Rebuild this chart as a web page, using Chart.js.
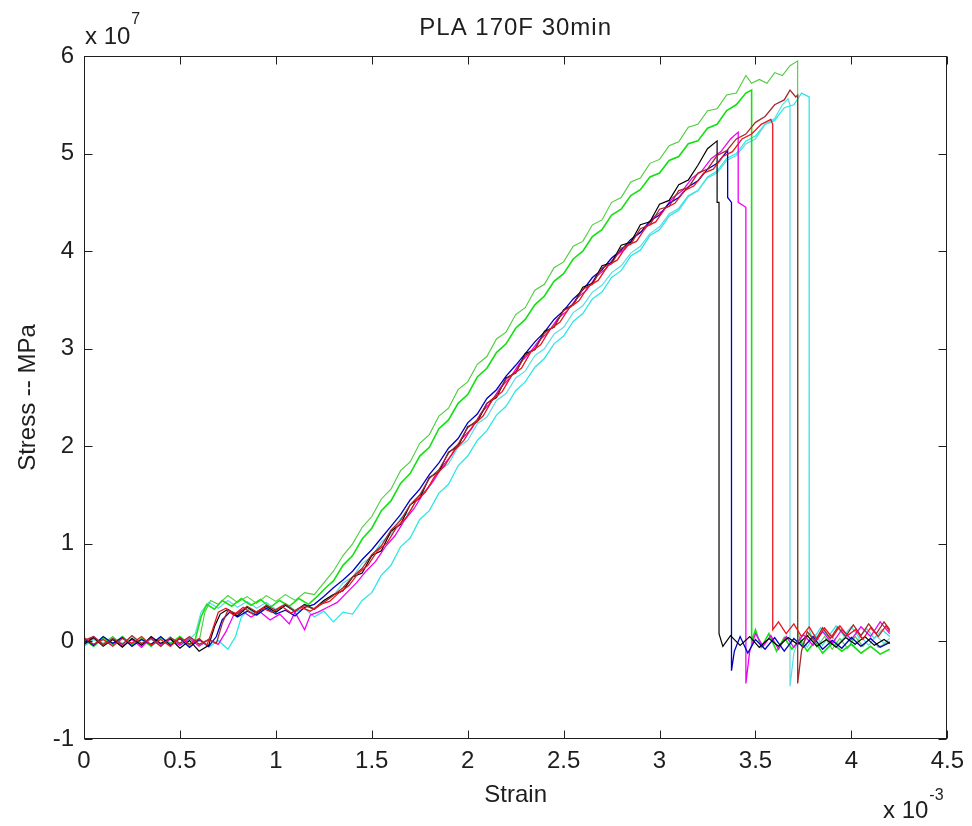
<!DOCTYPE html>
<html>
<head>
<meta charset="utf-8">
<title>PLA 170F 30min</title>
<script src="https://cdn.jsdelivr.net/npm/chart.js@4.4.1/dist/chart.umd.min.js"></script>
<style>
  html, body { margin: 0; padding: 0; background: #fff; }
  #plot { display: block; }
</style>
</head>
<body>
<canvas id="plot" width="972" height="826"></canvas>
<script>
// strain in units of 1e-3, stress in units of 1e7 (axis multipliers drawn separately)
const TITLE = 'PLA 170F 30min';
const X_LABEL = 'Strain';
const Y_LABEL = 'Stress -- MPa';
const X_TICKS = [0, 0.5, 1, 1.5, 2, 2.5, 3, 3.5, 4, 4.5];
const Y_TICKS = [-1, 0, 1, 2, 3, 4, 5, 6];

const redCurve = [[0,0.04],[0.05,-0.03],[0.1,0.02],[0.15,-0.05],[0.2,0.03],[0.25,-0.02],[0.3,0.05],[0.35,-0.04],[0.4,0.02],[0.45,-0.05],[0.5,0.04],[0.55,-0.03],[0.6,0.03],[0.64,-0.04],[0.67,0.12],[0.7,0.3],[0.74,0.34],[0.78,0.27],[0.83,0.35],[0.88,0.28],[0.93,0.34],[0.98,0.3],[1.03,0.36],[1.08,0.29],[1.13,0.35],[1.18,0.31],[1.23,0.38],[1.28,0.41],[1.33,0.5],[1.38,0.57],[1.43,0.7],[1.48,0.78],[1.53,0.93],[1.58,1.01],[1.63,1.17],[1.68,1.27],[1.73,1.44],[1.78,1.53],[1.83,1.7],[1.88,1.8],[1.93,1.96],[1.98,2.06],[2.03,2.22],[2.08,2.31],[2.13,2.48],[2.18,2.56],[2.23,2.73],[2.28,2.8],[2.33,2.97],[2.38,3.04],[2.43,3.2],[2.48,3.27],[2.53,3.42],[2.58,3.49],[2.63,3.64],[2.68,3.7],[2.73,3.85],[2.78,3.91],[2.83,4.06],[2.88,4.1],[2.93,4.25],[2.98,4.3],[3.03,4.44],[3.08,4.49],[3.13,4.62],[3.18,4.67],[3.23,4.8],[3.28,4.84],[3.33,4.97],[3.38,5.02],[3.43,5.15],[3.48,5.2],[3.53,5.3],[3.58,5.35],[3.59,5.3],[3.59,0.12],[3.62,0.2],[3.66,0.08],[3.7,0.18],[3.74,0.05],[3.78,0.15],[3.82,0.02],[3.86,0.14],[3.9,0.04],[3.94,0.16],[3.98,0.06],[4.02,0.12],[4.06,0.02],[4.1,0.14],[4.14,0.05],[4.18,0.16],[4.2,0.1]];

const darkRedCurve = [[0,0.01],[0.05,0.05],[0.1,-0.04],[0.15,0.03],[0.2,-0.03],[0.25,0.06],[0.3,-0.02],[0.35,0.03],[0.4,-0.05],[0.45,0.04],[0.5,-0.02],[0.55,0.05],[0.6,-0.03],[0.65,0.02],[0.69,-0.02],[0.72,0.18],[0.75,0.32],[0.8,0.28],[0.85,0.36],[0.9,0.3],[0.95,0.37],[1,0.32],[1.05,0.38],[1.1,0.31],[1.15,0.37],[1.2,0.33],[1.25,0.4],[1.3,0.47],[1.35,0.55],[1.4,0.66],[1.45,0.75],[1.5,0.89],[1.55,0.98],[1.6,1.14],[1.65,1.24],[1.7,1.4],[1.75,1.5],[1.8,1.67],[1.85,1.76],[1.9,1.93],[1.95,2.02],[2,2.19],[2.05,2.27],[2.1,2.44],[2.15,2.52],[2.2,2.69],[2.25,2.76],[2.3,2.93],[2.35,3],[2.4,3.16],[2.45,3.23],[2.5,3.39],[2.55,3.45],[2.6,3.61],[2.65,3.66],[2.7,3.83],[2.75,3.87],[2.8,4.03],[2.85,4.07],[2.9,4.23],[2.95,4.27],[3,4.43],[3.05,4.46],[3.1,4.62],[3.15,4.65],[3.2,4.8],[3.25,4.84],[3.3,4.98],[3.35,5.03],[3.4,5.15],[3.45,5.2],[3.5,5.32],[3.55,5.38],[3.6,5.5],[3.65,5.55],[3.68,5.65],[3.71,5.58],[3.72,5.6],[3.72,-0.43],[3.74,-0.1],[3.77,0.1],[3.81,0],[3.85,0.14],[3.89,0.03],[3.93,0.15],[3.97,0.05],[4.01,0.17],[4.05,0.06],[4.09,0.18],[4.13,0.08],[4.17,0.2],[4.2,0.12]];

const blackCurve = [[0,-0.03],[0.05,0.04],[0.1,-0.05],[0.15,0.02],[0.2,-0.06],[0.25,0.03],[0.3,-0.04],[0.35,0.05],[0.4,-0.02],[0.45,0.03],[0.5,-0.07],[0.55,0.01],[0.6,-0.1],[0.65,-0.04],[0.68,0.15],[0.71,0.28],[0.75,0.33],[0.8,0.26],[0.85,0.35],[0.9,0.29],[0.95,0.36],[1,0.3],[1.05,0.37],[1.1,0.31],[1.15,0.38],[1.2,0.33],[1.25,0.42],[1.3,0.48],[1.35,0.52],[1.4,0.66],[1.45,0.7],[1.5,0.88],[1.55,0.93],[1.6,1.13],[1.65,1.2],[1.7,1.4],[1.75,1.47],[1.8,1.68],[1.85,1.74],[1.9,1.94],[1.95,2],[2,2.2],[2.05,2.25],[2.1,2.44],[2.15,2.5],[2.2,2.7],[2.25,2.75],[2.3,2.95],[2.35,2.99],[2.4,3.18],[2.45,3.22],[2.5,3.4],[2.55,3.45],[2.6,3.63],[2.65,3.67],[2.7,3.85],[2.75,3.88],[2.8,4.06],[2.85,4.09],[2.9,4.27],[2.95,4.3],[3,4.48],[3.05,4.52],[3.1,4.68],[3.15,4.73],[3.2,4.88],[3.25,5.05],[3.3,5.13],[3.3,4.5],[3.31,4.5],[3.31,0.08],[3.33,-0.05],[3.37,0.06],[3.42,-0.04],[3.47,0.05],[3.52,-0.06],[3.57,0.03],[3.62,-0.05],[3.67,0.04],[3.72,-0.03],[3.77,0.06],[3.82,-0.05],[3.87,0.02],[3.92,-0.06],[3.97,0.04],[4.02,-0.03],[4.07,0.05],[4.12,-0.04],[4.17,0.02],[4.2,-0.02]];

const navyCurve = [[0,0.03],[0.05,-0.04],[0.1,0.05],[0.15,-0.02],[0.2,0.04],[0.25,-0.05],[0.3,0.02],[0.35,-0.03],[0.4,0.05],[0.45,-0.04],[0.5,0.03],[0.55,-0.06],[0.6,0.02],[0.65,-0.05],[0.69,0.05],[0.72,0.22],[0.76,0.3],[0.8,0.25],[0.85,0.31],[0.9,0.27],[0.95,0.34],[1,0.28],[1.05,0.32],[1.1,0.26],[1.15,0.35],[1.2,0.38],[1.25,0.46],[1.3,0.55],[1.35,0.63],[1.4,0.72],[1.45,0.84],[1.5,0.94],[1.55,1.06],[1.6,1.18],[1.65,1.3],[1.7,1.45],[1.75,1.56],[1.8,1.71],[1.85,1.83],[1.9,1.98],[1.95,2.08],[2,2.24],[2.05,2.33],[2.1,2.49],[2.15,2.58],[2.2,2.72],[2.25,2.83],[2.3,2.95],[2.35,3.07],[2.4,3.17],[2.45,3.3],[2.5,3.39],[2.55,3.51],[2.6,3.6],[2.65,3.73],[2.7,3.81],[2.75,3.93],[2.8,4.01],[2.85,4.12],[2.9,4.19],[2.95,4.31],[3,4.37],[3.05,4.49],[3.1,4.55],[3.15,4.66],[3.2,4.72],[3.25,4.84],[3.3,4.9],[3.355,5.03],[3.355,4.55],[3.375,4.5],[3.375,-0.3],[3.39,-0.1],[3.42,0.05],[3.46,-0.12],[3.5,0.02],[3.55,-0.08],[3.6,0.04],[3.65,-0.1],[3.7,0.03],[3.75,-0.06],[3.8,0.05],[3.85,-0.08],[3.9,0.01],[3.95,-0.07],[4,0.04],[4.05,-0.05],[4.1,0.03],[4.15,-0.06],[4.2,-0.01]];

const magentaCurve = [[0,-0.02],[0.05,0.05],[0.1,-0.03],[0.15,0.03],[0.2,-0.05],[0.25,0.02],[0.3,-0.06],[0.35,0.04],[0.4,-0.03],[0.45,0.02],[0.5,-0.04],[0.55,0.03],[0.6,-0.05],[0.65,0.02],[0.7,-0.03],[0.74,0.1],[0.78,0.27],[0.82,0.32],[0.87,0.25],[0.92,0.3],[0.97,0.22],[1.02,0.28],[1.07,0.18],[1.1,0.3],[1.15,0.12],[1.18,0.27],[1.22,0.3],[1.27,0.35],[1.32,0.4],[1.37,0.5],[1.42,0.6],[1.47,0.72],[1.52,0.82],[1.57,0.97],[1.62,1.08],[1.67,1.24],[1.72,1.36],[1.77,1.52],[1.82,1.64],[1.87,1.8],[1.92,1.92],[1.97,2.08],[2.02,2.18],[2.07,2.34],[2.12,2.45],[2.17,2.6],[2.22,2.7],[2.27,2.85],[2.32,2.95],[2.37,3.08],[2.42,3.17],[2.47,3.31],[2.52,3.39],[2.57,3.52],[2.62,3.6],[2.67,3.74],[2.72,3.82],[2.77,3.95],[2.82,4.02],[2.87,4.15],[2.92,4.22],[2.97,4.35],[3.02,4.42],[3.07,4.55],[3.12,4.62],[3.17,4.75],[3.22,4.82],[3.27,4.95],[3.32,5.02],[3.37,5.15],[3.41,5.22],[3.41,4.5],[3.45,4.45],[3.45,-0.43],[3.47,-0.1],[3.5,0.08],[3.54,-0.05],[3.58,0.06],[3.62,-0.08],[3.66,0.05],[3.7,-0.06],[3.75,0.07],[3.8,-0.04],[3.85,0.1],[3.9,-0.02],[3.95,0.12],[4,0.02],[4.05,0.15],[4.1,0.05],[4.15,0.2],[4.2,0.08]];

const greenCurve = [[0,0.02],[0.05,-0.05],[0.1,0.04],[0.15,-0.03],[0.2,0.05],[0.25,-0.04],[0.3,0.03],[0.35,-0.05],[0.4,0.04],[0.45,-0.02],[0.5,0.05],[0.55,-0.03],[0.58,0.02],[0.61,0.25],[0.64,0.38],[0.68,0.33],[0.72,0.42],[0.77,0.36],[0.82,0.44],[0.87,0.37],[0.92,0.43],[0.97,0.35],[1.02,0.42],[1.07,0.36],[1.12,0.44],[1.17,0.38],[1.22,0.47],[1.26,0.55],[1.3,0.62],[1.35,0.78],[1.4,0.88],[1.45,1.05],[1.5,1.16],[1.55,1.34],[1.6,1.44],[1.65,1.62],[1.7,1.72],[1.75,1.9],[1.8,1.99],[1.85,2.18],[1.9,2.27],[1.95,2.44],[2,2.53],[2.05,2.71],[2.1,2.8],[2.15,2.96],[2.2,3.05],[2.25,3.21],[2.3,3.3],[2.35,3.45],[2.4,3.54],[2.45,3.69],[2.5,3.77],[2.55,3.92],[2.6,4],[2.65,4.15],[2.7,4.22],[2.75,4.37],[2.8,4.43],[2.85,4.57],[2.9,4.63],[2.95,4.76],[3,4.8],[3.05,4.93],[3.1,4.97],[3.15,5.1],[3.2,5.13],[3.25,5.26],[3.3,5.3],[3.35,5.44],[3.4,5.5],[3.45,5.62],[3.48,5.65],[3.48,0],[3.5,0.12],[3.53,-0.06],[3.57,0.08],[3.61,-0.1],[3.65,0.04],[3.69,-0.08],[3.73,0.02],[3.77,-0.1],[3.81,0],[3.85,-0.12],[3.9,-0.02],[3.95,-0.1],[4,-0.03],[4.05,-0.12],[4.1,-0.05],[4.15,-0.13],[4.2,-0.08]];

const lightGreenCurve = [[0,-0.04],[0.05,0.03],[0.1,-0.02],[0.15,0.05],[0.2,-0.04],[0.25,0.03],[0.3,-0.03],[0.35,0.04],[0.4,-0.05],[0.45,0.03],[0.5,-0.02],[0.55,0.04],[0.6,0],[0.63,0.3],[0.66,0.42],[0.7,0.38],[0.75,0.47],[0.8,0.4],[0.85,0.46],[0.9,0.39],[0.95,0.47],[1,0.41],[1.05,0.48],[1.1,0.42],[1.15,0.5],[1.2,0.48],[1.25,0.6],[1.3,0.72],[1.35,0.88],[1.4,1],[1.45,1.17],[1.5,1.28],[1.55,1.46],[1.6,1.56],[1.65,1.75],[1.7,1.84],[1.75,2.03],[1.8,2.12],[1.85,2.31],[1.9,2.39],[1.95,2.58],[2,2.66],[2.05,2.84],[2.1,2.92],[2.15,3.1],[2.2,3.17],[2.25,3.35],[2.3,3.42],[2.35,3.6],[2.4,3.66],[2.45,3.83],[2.5,3.89],[2.55,4.05],[2.6,4.1],[2.65,4.27],[2.7,4.32],[2.75,4.5],[2.8,4.55],[2.85,4.71],[2.9,4.75],[2.95,4.9],[3,4.94],[3.05,5.08],[3.1,5.12],[3.15,5.27],[3.2,5.3],[3.25,5.44],[3.3,5.46],[3.35,5.6],[3.4,5.62],[3.45,5.8],[3.48,5.72],[3.52,5.76],[3.56,5.72],[3.6,5.83],[3.64,5.8],[3.68,5.9],[3.72,5.95],[3.72,0.1],[3.74,-0.05],[3.78,0.08],[3.82,-0.06],[3.86,0.05],[3.9,-0.08],[3.94,0.03],[3.98,-0.07],[4.02,0.05],[4.06,-0.05],[4.1,0.04],[4.14,-0.06],[4.2,0]];

const cyanCurve = [[0,0.03],[0.05,-0.05],[0.1,0.02],[0.15,-0.04],[0.2,0.05],[0.25,-0.03],[0.3,0.02],[0.35,-0.05],[0.4,0.04],[0.45,-0.02],[0.5,0.03],[0.55,-0.05],[0.6,0.02],[0.65,-0.06],[0.7,0.01],[0.75,-0.08],[0.79,0.05],[0.82,0.25],[0.86,0.33],[0.9,0.27],[0.95,0.35],[1,0.3],[1.05,0.37],[1.1,0.3],[1.15,0.34],[1.2,0.25],[1.25,0.31],[1.3,0.2],[1.35,0.3],[1.4,0.28],[1.45,0.42],[1.5,0.5],[1.55,0.68],[1.6,0.78],[1.65,0.97],[1.7,1.06],[1.75,1.25],[1.8,1.34],[1.85,1.52],[1.9,1.61],[1.95,1.8],[2,1.9],[2.05,2.06],[2.1,2.16],[2.15,2.32],[2.2,2.41],[2.25,2.57],[2.3,2.66],[2.35,2.81],[2.4,2.9],[2.45,3.05],[2.5,3.13],[2.55,3.28],[2.6,3.36],[2.65,3.51],[2.7,3.58],[2.75,3.73],[2.8,3.8],[2.85,3.95],[2.9,4.01],[2.95,4.16],[3,4.22],[3.05,4.36],[3.1,4.42],[3.15,4.56],[3.2,4.62],[3.25,4.76],[3.3,4.82],[3.35,4.95],[3.4,5],[3.45,5.13],[3.5,5.18],[3.55,5.3],[3.6,5.34],[3.65,5.47],[3.7,5.5],[3.74,5.62],[3.78,5.58],[3.78,0.12],[3.8,0.02],[3.84,0.14],[3.88,0.05],[3.92,0.16],[3.96,0.06],[4,0.15],[4.04,0.04],[4.08,0.13],[4.12,0.03],[4.16,0.12],[4.2,0.05]];

const paleCyanCurve = [[0,-0.05],[0.05,0.02],[0.1,-0.04],[0.15,0.04],[0.2,-0.02],[0.25,0.05],[0.3,-0.04],[0.35,0.02],[0.4,-0.03],[0.45,0.05],[0.5,-0.04],[0.55,0.02],[0.58,0.08],[0.61,0.3],[0.65,0.4],[0.7,0.34],[0.75,0.42],[0.8,0.35],[0.85,0.41],[0.9,0.34],[0.95,0.4],[1,0.33],[1.05,0.39],[1.1,0.32],[1.15,0.38],[1.2,0.34],[1.25,0.42],[1.3,0.47],[1.35,0.6],[1.4,0.66],[1.45,0.8],[1.5,0.87],[1.55,1.02],[1.6,1.1],[1.65,1.26],[1.7,1.33],[1.75,1.5],[1.8,1.58],[1.85,1.75],[1.9,1.82],[1.95,1.99],[2,2.06],[2.05,2.23],[2.1,2.3],[2.15,2.47],[2.2,2.54],[2.25,2.7],[2.3,2.77],[2.35,2.93],[2.4,3],[2.45,3.15],[2.5,3.22],[2.55,3.37],[2.6,3.44],[2.65,3.58],[2.7,3.65],[2.75,3.78],[2.8,3.85],[2.85,3.98],[2.9,4.05],[2.95,4.18],[3,4.25],[3.05,4.38],[3.1,4.44],[3.15,4.57],[3.2,4.62],[3.25,4.75],[3.3,4.8],[3.35,4.93],[3.4,4.98],[3.45,5.1],[3.5,5.15],[3.55,5.3],[3.6,5.36],[3.64,5.5],[3.67,5.56],[3.68,5.5],[3.68,-0.46],[3.7,-0.12],[3.73,0.05],[3.77,-0.06],[3.81,0.07],[3.85,-0.04],[3.89,0.08],[3.93,-0.03],[3.97,0.06],[4.01,-0.05],[4.05,0.05],[4.09,-0.04],[4.13,0.06],[4.17,-0.02],[4.2,0.03]];

// first listed is drawn on top
const SERIES = [
  { curve: redCurve,        color: '#e8141e', width: 1.3 },
  { curve: darkRedCurve,    color: '#a52a2a', width: 1.3 },
  { curve: blackCurve,      color: '#000000', width: 1.2 },
  { curve: navyCurve,       color: '#0000c0', width: 1.3 },
  { curve: magentaCurve,    color: '#f000f0', width: 1.3 },
  { curve: greenCurve,      color: '#14e014', width: 1.6 },
  { curve: lightGreenCurve, color: '#4ccc3c', width: 1.1 },
  { curve: paleCyanCurve,   color: '#5adce4', width: 1.2 },
  { curve: cyanCurve,       color: '#2ee6e6', width: 1.3 },
];

const FONT = 'Liberation Sans, Arial, Helvetica, sans-serif';
const INK = '#1e1e1e';

// MATLAB-ish box: frame, inward ticks on all four sides, title and exponent labels
const matlabBox = {
  id: 'matlabBox',
  afterDraw(chart) {
    const { ctx, chartArea: a, scales: { x, y } } = chart;
    const L = Math.round(a.left) + 0.5, R = Math.round(a.right) - 0.5;
    const T = Math.round(a.top) + 0.5, B = Math.round(a.bottom) - 0.5;
    const tick = 8;
    ctx.save();
    ctx.strokeStyle = INK;
    ctx.lineWidth = 1;
    ctx.strokeRect(L, T, R - L, B - T);
    ctx.beginPath();
    X_TICKS.forEach(v => {
      const px = Math.round(x.getPixelForValue(v)) + 0.5;
      ctx.moveTo(px, B); ctx.lineTo(px, B - tick);
      ctx.moveTo(px, T); ctx.lineTo(px, T + tick);
    });
    Y_TICKS.forEach(v => {
      const py = Math.round(y.getPixelForValue(v)) + 0.5;
      ctx.moveTo(L, py); ctx.lineTo(L + tick, py);
      ctx.moveTo(R, py); ctx.lineTo(R - tick, py);
    });
    ctx.stroke();

    ctx.fillStyle = INK;
    ctx.textBaseline = 'middle';
    ctx.textAlign = 'center';
    ctx.font = '24px ' + FONT;
    ctx.letterSpacing = '1px';
    ctx.fillText(TITLE, (a.left + a.right) / 2, 28);
    ctx.letterSpacing = '0px';

    ctx.textBaseline = 'alphabetic';
    ctx.textAlign = 'left';
    ctx.font = '24px ' + FONT;
    ctx.fillText('x 10', a.left + 1, 44);
    let w = ctx.measureText('x 10').width;
    ctx.font = '16px ' + FONT;
    ctx.fillText('7', a.left + 2 + w, 24);

    ctx.font = '24px ' + FONT;
    ctx.fillText('x 10', 883, 818);
    w = ctx.measureText('x 10').width;
    ctx.font = '16px ' + FONT;
    ctx.fillText('-3', 884 + w, 800);
    ctx.restore();
  }
};

const fmt = v => String(Math.round(v * 10) / 10);

new Chart(document.getElementById('plot'), {
  type: 'scatter',
  data: {
    datasets: SERIES.map(s => ({
      data: s.curve.map(p => ({ x: p[0], y: p[1] })),
      showLine: true,
      borderColor: s.color,
      backgroundColor: s.color,
      borderWidth: s.width,
      pointRadius: 0,
      tension: 0,
    }))
  },
  options: {
    responsive: false,
    animation: false,
    layout: { padding: { left: 0, right: 23, top: 56, bottom: 0 } },
    plugins: {
      legend: { display: false },
      tooltip: { enabled: false },
      title: { display: false },
    },
    scales: {
      x: {
        type: 'linear',
        min: 0, max: 4.5,
        grid: { display: false, drawTicks: false },
        border: { display: false },
        afterFit: s => { s.height = 87; },
        afterBuildTicks: s => { s.ticks = X_TICKS.map(v => ({ value: v })); },
        ticks: { color: INK, padding: 8, maxRotation: 0, autoSkip: false,
                 font: { family: FONT, size: 24 }, callback: fmt },
        title: { display: true, text: X_LABEL, color: INK,
                 font: { family: FONT, size: 24, lineHeight: 1.2 },
                 padding: { top: 0, bottom: 16 } },
      },
      y: {
        type: 'linear',
        min: -1, max: 6,
        grid: { display: false, drawTicks: false },
        border: { display: false },
        afterFit: s => { s.width = 84; },
        afterBuildTicks: s => { s.ticks = Y_TICKS.map(v => ({ value: v })); },
        ticks: { color: INK, padding: 10, autoSkip: false,
                 font: { family: FONT, size: 24 }, callback: fmt },
        title: { display: true, text: Y_LABEL, color: INK,
                 font: { family: FONT, size: 24, lineHeight: 1.2 },
                 padding: { top: 14, bottom: 0 } },
      },
    },
  },
  plugins: [matlabBox],
});
</script>
</body>
</html>
